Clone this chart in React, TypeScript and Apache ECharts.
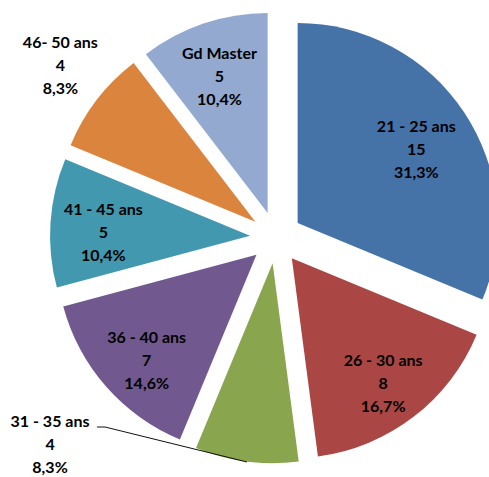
import React, { useEffect, useRef } from 'react';
import * as echarts from 'echarts';

const categories = ['21 - 25 ans', '26 - 30 ans', '31 - 35 ans', '36 - 40 ans', '41 - 45 ans', '46- 50 ans', 'Gd Master'];
const counts = [15, 8, 4, 7, 5, 4, 5];
const colors = ['#4572A7', '#AA4643', '#89A54E', '#71588F', '#4198AF', '#DB843D', '#93A9CF'];

// manual label nudges (Excel moved some labels by hand)
const labelShift: Record<number, { dx: number; dy: number }> = {
  0: { dx: -6, dy: 9 },
  1: { dx: 0, dy: 5 },
  2: { dx: -203, dy: 32 },
  3: { dx: 3, dy: 6 },
  4: { dx: 3, dy: 6 },
  5: { dx: -76, dy: -66 },
  6: { dx: 0, dy: 5 },
};

export default function App() {
  const ref = useRef<HTMLDivElement>(null);
  useEffect(() => {
    const chart = echarts.init(ref.current!, null, { renderer: 'svg' });
    const fmt = (p: any) => `${p.name}\n${p.value}\n${Number(p.percent).toFixed(1).replace('.', ',')}%`;
    const font = {
      fontFamily: 'Lato, "Open Sans", sans-serif',
      fontSize: 16,
      fontWeight: 'bold' as const,
      color: '#000',
      lineHeight: 23,
      align: 'center' as const,
      textBorderWidth: 0,
    };
    const center = [276, 237.5];
    chart.setOption({
      animation: false,
      backgroundColor: '#fff',
      graphic: [
        {
          type: 'polyline',
          silent: true,
          shape: { points: [[97, 427], [105, 427], [247, 462]] },
          style: { stroke: '#111', lineWidth: 1, fill: 'none' },
          z: 10,
        },
      ],
      series: [
        {
          type: 'pie',
          center,
          radius: 200,
          startAngle: 90,
          clockwise: true,
          selectedMode: 'multiple',
          selectedOffset: 26,
          avoidLabelOverlap: false,
          percentPrecision: 1,
          emphasis: { disabled: true },
          label: { show: false },
          labelLine: { show: false },
          data: categories.map((n, i) => ({
            name: n,
            value: counts[i],
            selected: true,
            itemStyle: { color: colors[i] },
          })),
        },
        {
          type: 'pie',
          center,
          radius: 294,
          startAngle: 90,
          clockwise: true,
          selectedMode: 'multiple',
          selectedOffset: 26,
          avoidLabelOverlap: false,
          percentPrecision: 1,
          silent: true,
          emphasis: { disabled: true },
          itemStyle: { color: 'rgba(0,0,0,0)' },
          labelLine: { show: false },
          data: categories.map((n, i) => ({
            name: n,
            value: counts[i],
            selected: true,
          })),
          label: { show: true, position: 'inside', formatter: fmt, ...font },
          labelLayout: (p: any) => labelShift[p.dataIndex] || {},
        },
      ],
    });
    return () => chart.dispose();
  }, []);
  return <div ref={ref} style={{ position: 'absolute', left: 0, top: 0, width: 489, height: 477 }} />;
}
